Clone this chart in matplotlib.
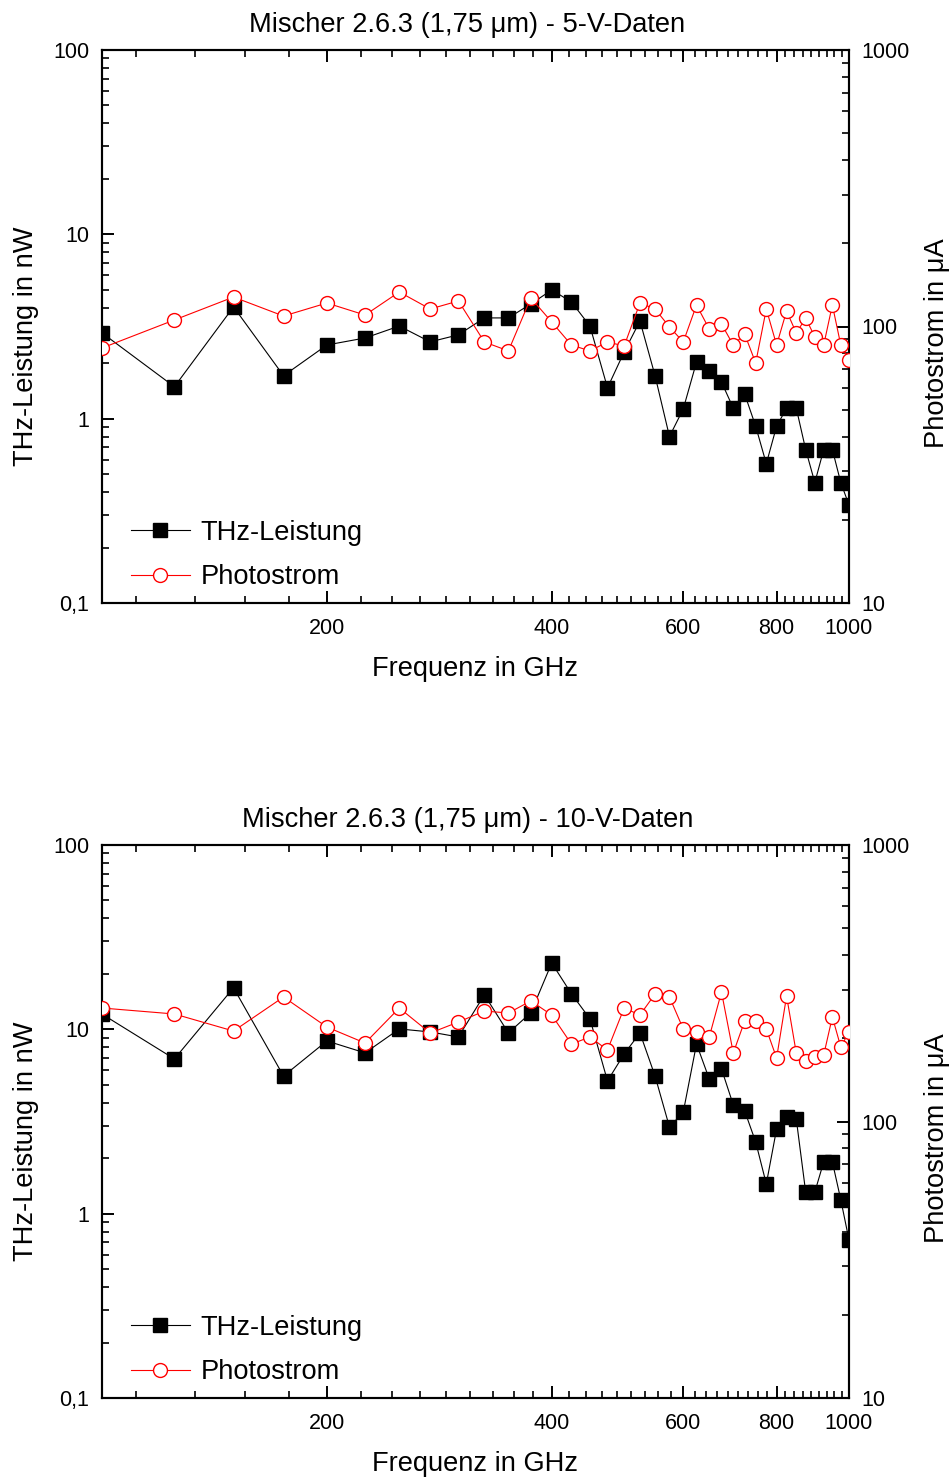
import matplotlib
matplotlib.use("Agg")
import matplotlib.pyplot as plt
from matplotlib.lines import Line2D
from matplotlib.ticker import FixedLocator, FuncFormatter, LogLocator, MultipleLocator, NullFormatter

plt.rcParams["font.family"] = ["Liberation Sans", "DejaVu Sans"]

freq_ghz = [100, 125, 150, 175, 200, 225, 250, 275, 300, 325, 350, 375, 400,
            425, 450, 475, 500, 525, 550, 575, 600, 625, 650, 675, 700, 725,
            750, 775, 800, 825, 850, 875, 900, 925, 950, 975, 1000]

# 5 V bias
thz_5v = [2.92, 1.49, 4.04, 1.71, 2.51, 2.74, 3.18, 2.61, 2.85, 3.52, 3.52, 4.19,
          4.99, 4.30, 3.18, 1.47, 2.30, 3.39, 1.71, 0.80, 1.13, 2.03, 1.81, 1.58,
          1.14, 1.36, 0.91, 0.57, 0.91, 1.14, 1.14, 0.68, 0.45, 0.68, 0.68, 0.45, 0.34]
photo_5v = [83.6, 105.6, 127.8, 109.1, 121.6, 110.0, 133.3, 115.7, 123.7, 87.9,
            81.6, 126.8, 103.8, 85.7, 81.6, 87.9, 85.0, 121.6, 115.7, 99.6, 87.9,
            119.6, 97.9, 102.1, 85.7, 93.9, 73.8, 115.7, 85.7, 113.8, 94.7, 107.3,
            91.6, 85.7, 119.6, 85.7, 75.6]

# 10 V bias
thz_10v = [12.1, 6.91, 16.8, 5.58, 8.65, 7.45, 10.05, 9.68, 9.09, 15.4, 9.56, 12.3,
           22.9, 15.6, 11.4, 5.25, 7.35, 9.56, 5.58, 2.95, 3.56, 8.33, 5.38, 6.10,
           3.89, 3.61, 2.45, 1.45, 2.88, 3.35, 3.26, 1.31, 1.31, 1.91, 1.91, 1.19, 0.72]
photo_10v = [257.3, 244.8, 212.4, 282.0, 219.6, 192.2, 257.3, 208.9, 229.0, 250.9,
             246.8, 272.9, 242.7, 190.6, 202.1, 181.4, 257.3, 242.7, 289.1, 282.0,
             216.0, 210.7, 202.1, 294.0, 176.9, 230.9, 230.9, 216.0, 169.7, 284.4,
             176.9, 165.5, 171.1, 174.0, 238.8, 186.0, 210.7]

titles = ["Mischer 2.6.3 (1,75 \u03bcm) - 5-V-Daten",
          "Mischer 2.6.3 (1,75 \u03bcm) - 10-V-Daten"]
x_ticks = [200, 400, 600, 800, 1000]
left_ticks = [0.1, 1, 10, 100]
right_ticks = [10, 100, 1000]

LABEL_FS = 19.6
TICK_FS = 15.5


def _comma(v, pos=None):
    s = f"{v:g}"
    return s.replace(".", ",")


def _style_ticks(ax, **kw):
    ax.tick_params(which="major", direction="in", length=8.5, width=1.4,
                   labelsize=TICK_FS, **kw)
    ax.tick_params(which="minor", direction="in", length=5, width=1.2, **kw)


def draw_panel(fig, rect, title, thz, photo):
    ax = fig.add_axes(rect)
    ax.set_xscale("log")
    ax.set_yscale("log")
    ax.set_xlim(100, 1000)
    ax.set_ylim(0.1, 100)

    ax.plot(freq_ghz, thz, color="black", lw=0.8, marker="s", ms=10,
            mfc="black", mec="black", zorder=3)

    ax.xaxis.set_major_locator(FixedLocator(x_ticks))
    ax.xaxis.set_minor_locator(MultipleLocator(200 / 9))
    ax.xaxis.set_major_formatter(FuncFormatter(_comma))
    ax.xaxis.set_minor_formatter(NullFormatter())
    ax.yaxis.set_major_locator(FixedLocator(left_ticks))
    ax.yaxis.set_minor_locator(LogLocator(base=10, subs=range(2, 10)))
    ax.yaxis.set_major_formatter(FuncFormatter(_comma))
    ax.yaxis.set_minor_formatter(NullFormatter())
    _style_ticks(ax, top=True, bottom=True)
    ax.tick_params(axis="x", which="major", pad=11)
    ax.tick_params(axis="y", which="major", pad=9)

    ax2 = ax.twinx()
    ax2.set_yscale("log")
    ax2.set_ylim(10, 1000)
    ax2.plot(freq_ghz, photo, color="red", lw=0.8, marker="o", ms=10,
             mfc="white", mec="red", mew=1.0, zorder=3)
    ax2.yaxis.set_major_locator(FixedLocator(right_ticks))
    ax2.yaxis.set_minor_locator(LogLocator(base=10, subs=range(2, 10)))
    ax2.yaxis.set_major_formatter(FuncFormatter(_comma))
    ax2.yaxis.set_minor_formatter(NullFormatter())
    _style_ticks(ax2)
    ax2.tick_params(axis="y", which="major", pad=9)

    for a in (ax, ax2):
        for sp in a.spines.values():
            sp.set_linewidth(1.5)

    ax.set_title(title, fontsize=LABEL_FS, pad=13, x=0.489)
    ax.set_xlabel("Frequenz in GHz", fontsize=LABEL_FS, labelpad=12)
    ax.set_ylabel("THz-Leistung in nW", fontsize=LABEL_FS)
    ax.yaxis.set_label_coords(-0.084, 0.465)
    ax2.set_ylabel("Photostrom in \u03bcA", fontsize=LABEL_FS)
    ax2.yaxis.set_label_coords(1.10, 0.47)

    handles = [
        Line2D([], [], color="black", lw=0.8, marker="s", ms=10, mfc="black", mec="black"),
        Line2D([], [], color="red", lw=0.8, marker="o", ms=10, mfc="white", mec="red"),
    ]
    ax2.legend(handles, ["THz-Leistung", "Photostrom"], loc="lower left",
               bbox_to_anchor=(0.02, -0.002), frameon=False, fontsize=LABEL_FS,
               numpoints=1, handlelength=2.2, handletextpad=0.38,
               labelspacing=0.68, borderpad=0)
    return ax, ax2


fig = plt.figure(figsize=(9.52, 14.77), dpi=100)
ax_l = 102 / 952
ax_w = 747 / 952
ax_h = 553 / 1477
draw_panel(fig, [ax_l, 1 - 603 / 1477, ax_w, ax_h], titles[0], thz_5v, photo_5v)
draw_panel(fig, [ax_l, 1 - 1398 / 1477, ax_w, ax_h], titles[1], thz_10v, photo_10v)

fig.savefig("out.png", dpi=100, facecolor="white")
